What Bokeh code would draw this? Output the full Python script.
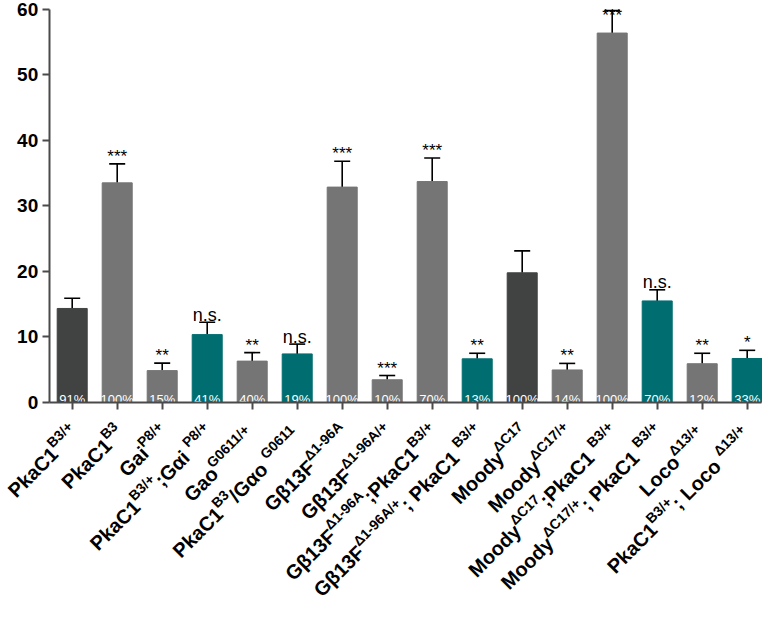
import math
from bokeh.plotting import figure
from bokeh.models import ColumnDataSource, Whisker, TeeHead, FixedTicker, Range1d
from bokeh.core.properties import value
from bokeh.embed import file_html
from bokeh.resources import INLINE

# ---------------- data ----------------
label_pieces = [
    [("PkaC1", 0), ("B3/+", 1)],
    [("PkaC1", 0), ("B3", 1)],
    [("Gai", 0), ("P8/+", 1)],
    [("PkaC1", 0), ("B3/+", 1), (" ;Gαi", 0), ("P8/+", 1)],
    [("Gao", 0), (" G0611/+", 1)],
    [("PkaC1", 0), ("B3", 1), (" /Gαo", 0), (" G0611", 1)],
    [("Gβ13F", 0), ("Δ1-96A", 1)],
    [("Gβ13F", 0), ("Δ1-96A/+", 1)],
    [("Gβ13F", 0), ("Δ1-96A", 1), (";PkaC1", 0), ("B3/+", 1)],
    [("Gβ13F", 0), ("Δ1-96A/+", 1), (" ; PkaC1", 0), ("B3/+", 1)],
    [("Moody", 0), ("ΔC17", 1)],
    [("Moody", 0), ("ΔC17/+", 1)],
    [("Moody", 0), ("ΔC17", 1), (" ;PkaC1", 0), ("B3/+", 1)],
    [("Moody", 0), ("ΔC17/+", 1), (" ; PkaC1", 0), ("B3/+", 1)],
    [("Loco", 0), (" Δ13/+", 1)],
    [("PkaC1", 0), ("B3/+", 1), (" ; Loco", 0), (" Δ13/+", 1)],
]
means = [14.3, 33.5, 4.8, 10.3, 6.25, 7.35, 32.85, 3.4,
         33.7, 6.6, 19.75, 4.9, 56.4, 15.45, 5.85, 6.65]
sems = [1.55, 2.9, 1.15, 1.9, 1.3, 1.5, 3.95, 0.65,
        3.6, 0.85, 3.35, 1.0, 3.45, 1.7, 1.6, 1.25]
groups = ["ctrl", "gray", "gray", "teal", "gray", "teal", "gray", "gray",
          "gray", "teal", "ctrl", "gray", "gray", "teal", "gray", "teal"]
percents = ["91%", "100%", "15%", "41%", "40%", "19%", "100%", "10%",
            "70%", "13%", "100%", "14%", "100%", "70%", "12%", "33%"]
signif = ["", "***", "**", "n.s.", "**", "n.s.", "***", "***",
          "***", "**", "", "**", "***", "n.s.", "**", "*"]
y_ticks = [0, 10, 20, 30, 40, 50, 60]

# ---------------- style / geometry ----------------
colors = {"ctrl": "#414242", "gray": "#757575", "teal": "#006e71"}
FONT = value("Liberation Sans")
W, H = 762, 608
AX_LEFT_PX = 48.7
AX_RIGHT_PX = 761.0
FIRST_CENTER_PX = 71.7
STEP_PX = 45.0
TOP_PX = 9.0
ZERO_PX = 401.5
Y0, Y1 = 0, 60

ppu = (ZERO_PX - TOP_PX) / (Y1 - Y0)
x_start = -FIRST_CENTER_PX / STEP_PX
x_end = (W - FIRST_CENTER_PX) / STEP_PX
y_start = Y0 - (H - ZERO_PX) / ppu
y_end = Y1 + TOP_PX / ppu
ax_left = (AX_LEFT_PX - FIRST_CENTER_PX) / STEP_PX
ax_right = (AX_RIGHT_PX - FIRST_CENTER_PX) / STEP_PX

n = len(means)
xs = list(range(n))

p = figure(width=W, height=H, output_backend="svg", toolbar_location=None,
           x_range=Range1d(x_start, x_end), y_range=Range1d(y_start, y_end),
           min_border=0, min_border_left=0, min_border_right=0,
           min_border_top=0, min_border_bottom=0)
p.extra_x_ranges = {"px": Range1d(x_start * STEP_PX, x_end * STEP_PX)}
p.extra_y_ranges = {"px": Range1d(y_start * ppu, y_end * ppu)}
p.outline_line_color = None
p.grid.visible = False
p.background_fill_color = "white"
p.border_fill_color = "white"

src = ColumnDataSource(dict(
    x=xs, mean=means, upper=[m + s for m, s in zip(means, sems)],
    color=[colors[g] for g in groups], pct=percents,
    pct_y=[Y0 + 3 / ppu] * n,
))
p.vbar(x="x", top="mean", bottom=Y0, width=0.667, source=src,
       fill_color="color", line_color="color")

wh = Whisker(base="x", upper="upper", lower="mean", source=src,
             dimension="height", line_color="black", line_width=1.6,
             upper_head=TeeHead(size=16, line_color="black", line_width=1.6),
             lower_head=None)
p.add_layout(wh)

p.text(x="x", y="pct_y", text="pct", source=src, text_align="center",
       text_baseline="alphabetic", text_color="white", text_font=FONT,
       text_font_size="13px")

limit = Y1 + (TOP_PX - 15) / ppu
star_x, star_y, star_t, ns_x, ns_y, ns_t = [], [], [], [], [], []
for i, t in enumerate(signif):
    if not t:
        continue
    yy = min(means[i] + sems[i] + 7.5 / ppu, limit)
    if t == "n.s.":
        ns_x.append(i); ns_y.append(yy); ns_t.append(t)
    else:
        star_x.append(i); star_y.append(yy); star_t.append(t)
p.text(x=star_x, y=star_y, text=star_t, text_align="center",
       text_baseline="alphabetic", text_color="black", text_font=FONT,
       text_font_size="17px")
p.text(x=ns_x, y=ns_y, text=ns_t, text_align="center",
       text_baseline="alphabetic", text_color="black", text_font=FONT,
       text_font_size="18px")

xa, ya = p.xaxis[0], p.yaxis[0]
for ax in (xa, ya):
    ax.axis_line_color = "#4a4a4a"
    ax.axis_line_width = 2
    ax.major_tick_line_color = "#4a4a4a"
    ax.major_tick_line_width = 2
    ax.major_tick_out = 7
    ax.major_tick_in = 0
    ax.minor_tick_line_color = None

ya.fixed_location = ax_left
ya.bounds = (Y0, Y1)
ya.ticker = FixedTicker(ticks=y_ticks)
ya.major_label_text_font = "Liberation Sans"
ya.major_label_text_font_style = "bold"
ya.major_label_text_font_size = "19px"
ya.major_label_text_color = "black"
ya.major_label_standoff = 4

xa.fixed_location = Y0
xa.bounds = (ax_left, ax_right)
xa.ticker = FixedTicker(ticks=xs)
xa.major_label_overrides = {i: "" for i in xs}
xa.major_label_text_font_size = "1px"

CW = {' ': .278, ';': .333, '/': .278, '+': .584, '-': .333, ',': .278,
      'A': .722, 'B': .722, 'C': .722, 'F': .611, 'G': .778, 'L': .611,
      'M': .833, 'P': .667, 'a': .556, 'c': .556, 'd': .611, 'i': .278,
      'k': .556, 'o': .611, 'y': .556, 'α': .617, 'β': .611, 'Δ': .722}
for d in "0123456789":
    CW[d] = .556
MAIN, SUP, RAISE = 20, 14, 8
QX, QY = 3.5, 27.5
ANG = math.pi / 4
c45 = math.sqrt(0.5)

for k, pieces in enumerate(label_pieces):
    starts, s = [], 0.0
    for text, sup in pieces:
        size = SUP if sup else MAIN
        starts.append(s)
        s += sum(CW.get(ch, .6) for ch in text) * size
    L = s
    for (text, sup), st in zip(pieces, starts):
        along = st - L
        r = RAISE if sup else 0
        ox = QX + along * c45 - r * c45
        oy_down = QY - along * c45 - r * c45
        p.text(x=[k * STEP_PX + ox], y=[Y0 * ppu - oy_down], text=[text],
               angle=ANG, x_range_name="px", y_range_name="px",
               text_align="left", text_baseline="alphabetic",
               text_color="black", text_font=FONT, text_font_style="bold",
               text_font_size=f"{SUP if sup else MAIN}px")

open("out.html", "w").write(file_html(p, INLINE))
